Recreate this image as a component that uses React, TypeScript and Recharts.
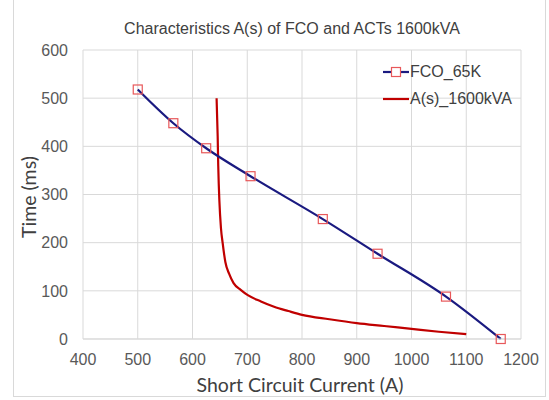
import React from "react";
import { LineChart, Line, XAxis, YAxis, CartesianGrid } from "recharts";

const xTicks = [400, 500, 600, 700, 800, 900, 1000, 1100, 1200];
const yTicks = [0, 100, 200, 300, 400, 500, 600];

const fcoCurrent = [500, 565, 625, 706, 838, 938, 1063, 1163];
const fcoTime = [518, 448, 396, 338, 249, 177, 88, 0];

const actCurrent = [644, 646, 647, 648, 649, 652, 655, 660, 667, 675, 688, 701, 725, 749, 775, 800, 850, 900, 950, 1000, 1050, 1100];
const actTime = [500, 420, 360, 320, 289, 230, 200, 160, 135, 116, 102, 91, 78, 67, 58, 50, 41, 33, 27, 21, 15, 10];

const fcoData = fcoCurrent.map((a, i) => ({ a, t: fcoTime[i] }));
const actData = actCurrent.map((a, i) => ({ a, t: actTime[i] }));

const BLUE = "#1a1a80";
const RED = "#c00000";
const MARK = "#e8585a";
const FONT = "'Liberation Sans', Arial, sans-serif";

const SquareDot = (props: any) => {
  const { cx, cy } = props;
  if (cx == null || cy == null) return null;
  return <rect x={cx - 4.5} y={cy - 4.5} width={9} height={9} fill="none" stroke={MARK} strokeWidth={1.2} />;
};

const XTick = (props: any) => {
  const { x, y, payload } = props;
  return (
    <text x={x} y={y} dy="0.71em" textAnchor="middle" fill="#595959" fontSize={16} fontFamily={FONT}>
      {payload.value}
    </text>
  );
};

const YTick = (props: any) => {
  const { x, y, payload } = props;
  return (
    <text x={x} y={y} dy="0.36em" textAnchor="end" fill="#595959" fontSize={16} fontFamily={FONT}>
      {payload.value}
    </text>
  );
};

const LegendBox = () => (
  <div style={{ position: "absolute", left: 383, top: 58, fontFamily: FONT, fontSize: 16, color: "#404040" }}>
    <div style={{ display: "flex", alignItems: "center", height: 27 }}>
      <svg width={27} height={12}>
        <line x1={0} y1={6} x2={26} y2={6} stroke={BLUE} strokeWidth={2.2} />
        <rect x={8.5} y={1.5} width={9} height={9} fill="#fff" stroke={MARK} strokeWidth={1.2} />
      </svg>
      <span>FCO_65K</span>
    </div>
    <div style={{ display: "flex", alignItems: "center", height: 27 }}>
      <svg width={27} height={12}>
        <line x1={0} y1={6} x2={26} y2={6} stroke={RED} strokeWidth={2.2} />
      </svg>
      <span>A(s)_1600kVA</span>
    </div>
  </div>
);

export default function App() {
  return (
    <div style={{ position: "absolute", left: 0, top: 0, width: 549, height: 400, background: "#fff", overflow: "hidden" }}>
      <div style={{ position: "absolute", left: 13, top: -2, width: 533, height: 399, border: "1px solid #d9d9d9", boxSizing: "border-box" }} />
      <div style={{ position: "absolute", left: 0, width: 584, top: 19, textAlign: "center", fontFamily: FONT, fontSize: 16, color: "#404040", lineHeight: "20px" }}>
        Characteristics A(s) of FCO and ACTs 1600kVA
      </div>
      <div style={{ position: "absolute", left: 0, width: 600, top: 372, textAlign: "center", fontFamily: "Lato, sans-serif", fontSize: 19.5, color: "#404040", lineHeight: "26px" }}>
        Short Circuit Current (A)
      </div>
      <div style={{ position: "absolute", left: 29, top: 197, width: 0, height: 0 }}>
        <div style={{ position: "absolute", left: -100, top: -13, width: 200, textAlign: "center", transform: "rotate(-90deg)", fontFamily: "Lato, sans-serif", fontSize: 19.5, color: "#404040", lineHeight: "26px" }}>
          Time (ms)
        </div>
      </div>
      <div style={{ position: "absolute", left: 0, top: 0 }}>
        <LineChart width={549} height={400} margin={{ top: 50, right: 28, bottom: 11, left: 23 }}>
          <CartesianGrid stroke="#d9d9d9" strokeWidth={1} />
          <XAxis
            dataKey="a"
            type="number"
            domain={[400, 1200]}
            ticks={xTicks}
            allowDuplicatedCategory={false}
            tickLine={false}
            axisLine={{ stroke: "#d9d9d9" }}
            tick={<XTick />}
            tickMargin={9}
            height={50}
            interval={0}
          />
          <YAxis
            dataKey="t"
            type="number"
            domain={[0, 600]}
            ticks={yTicks}
            tickLine={false}
            axisLine={false}
            tick={<YTick />}
            tickMargin={9}
            width={60}
            interval={0}
          />
          <Line data={actData} dataKey="t" type="monotone" stroke={RED} strokeWidth={2.2} dot={false} isAnimationActive={false} name="A(s)_1600kVA" />
          <Line data={fcoData} dataKey="t" type="monotone" stroke={BLUE} strokeWidth={2.2} dot={<SquareDot />} activeDot={false} isAnimationActive={false} name="FCO_65K" />
        </LineChart>
      </div>
      <LegendBox />
    </div>
  );
}
